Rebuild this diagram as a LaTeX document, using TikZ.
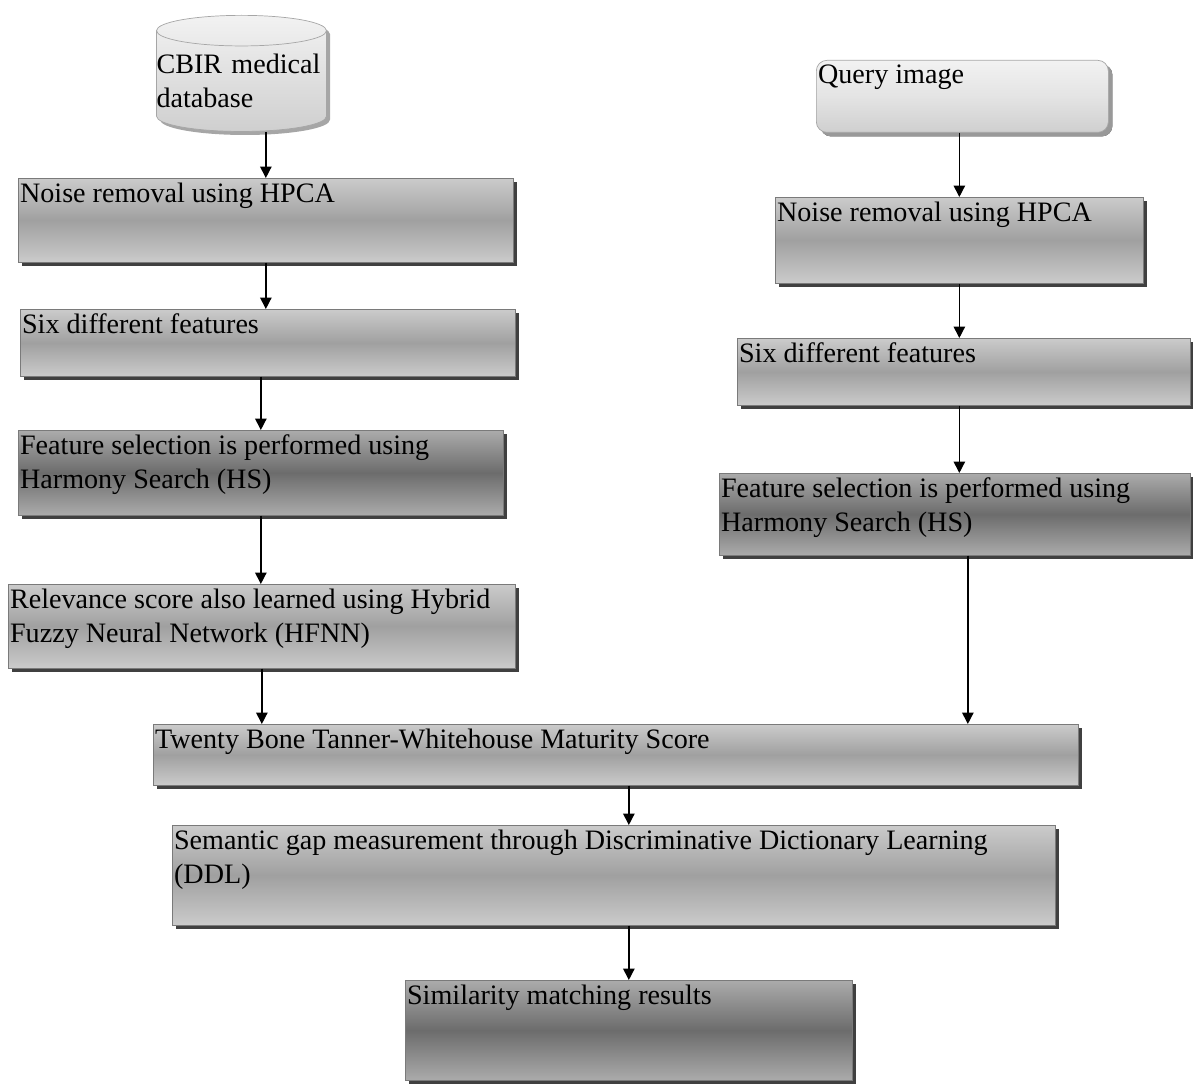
\documentclass[tikz,border=0pt]{standalone}
\usepackage{fontspec}
\setmainfont{Liberation Serif}
\usetikzlibrary{shapes.geometric, arrows.meta, shadows}
\definecolor{edge}{HTML}{7a7a7a}
\definecolor{lite}{HTML}{cbcbcb}
\definecolor{mid}{HTML}{a0a0a0}
\definecolor{dlite}{HTML}{ababab}
\definecolor{deep}{HTML}{6c6c6c}
\definecolor{pale}{HTML}{f2f2f2}
\definecolor{palemid}{HTML}{e4e4e4}
\definecolor{palelow}{HTML}{cfcfcf}

\begin{document}
\begin{tikzpicture}[>={Triangle[width=6.5pt,length=6.5pt]}]
  \useasboundingbox (0,0) rectangle (23.86,-21.68);
  \tikzstyle{box}=[rectangle, anchor=north west, draw=edge,
                   top color=lite, bottom color=lite, middle color=mid,
                   drop shadow={shadow xshift=2.3pt, shadow yshift=-2.3pt,
                   fill=black!75, opacity=1}]
  \tikzstyle{darkbox}=[box, top color=dlite, bottom color=dlite, middle color=deep]
  \tikzstyle{qbox}=[box, rounded corners=6pt, draw=black!35,
                   top color=pale, bottom color=palelow, middle color=palemid,
                   drop shadow={shadow xshift=2.3pt, shadow yshift=-2.3pt,
                   fill=black!40, opacity=1}]
  \tikzstyle{db}=[cylinder, shape border rotate=90, aspect=0.18, anchor=north,
                  draw=black!35, top color=pale, bottom color=palelow,
                  text width=3.4cm, align=left, inner xsep=0pt, inner ysep=4.5pt,
                  font=\fontsize{16}{19.5}\selectfont,
                  drop shadow={shadow xshift=2pt, shadow yshift=-2pt,
                  fill=black!35, opacity=1}]
  \tikzstyle{txt}=[anchor=north west, align=left, inner xsep=1pt, inner ysep=2.5pt,
                   font=\fontsize{16}{19.5}\selectfont]
  \tikzstyle{arr}=[->, thick]

  \node[db](db) at (4.83,-0.30) {CBIR medical\\database};
  \node[box, minimum width=9.9cm, minimum height=1.68cm,
        label={[txt]north west:Noise removal using  HPCA}](n1) at (0.36,-3.56) {};
  \node[box, minimum width=9.9cm, minimum height=1.34cm,
        label={[txt]north west:Six different features}](n2) at (0.40,-6.18) {};
  \node[darkbox, minimum width=9.7cm, minimum height=1.70cm,
        label={[txt]north west:Feature selection is performed using\\Harmony Search (HS)}](n3) at (0.36,-8.60) {};
  \node[box, minimum width=10.14cm, minimum height=1.68cm,
        label={[txt]north west:Relevance score also learned using Hybrid\\Fuzzy Neural Network (HFNN)}](n4) at (0.16,-11.68) {};

  \node[qbox, minimum width=5.84cm, minimum height=1.44cm,
        label={[txt]north west:Query image}](q) at (16.32,-1.20) {};
  \node[box, minimum width=7.36cm, minimum height=1.72cm,
        label={[txt]north west:Noise removal using  HPCA}](m1) at (15.50,-3.94) {};
  \node[box, minimum width=9.06cm, minimum height=1.34cm,
        label={[txt]north west:Six different features}](m2) at (14.74,-6.76) {};
  \node[darkbox, minimum width=9.42cm, minimum height=1.64cm,
        label={[txt]north west:Feature selection is performed using\\Harmony Search (HS)}](m3) at (14.38,-9.46) {};

  \node[box, minimum width=18.5cm, minimum height=1.22cm,
        label={[txt]north west:Twenty Bone Tanner-Whitehouse Maturity Score}](tw) at (3.06,-14.48) {};
  \node[box, minimum width=17.66cm, minimum height=2.0cm,
        label={[txt]north west:Semantic gap measurement through Discriminative Dictionary  Learning\\(DDL)}](sg) at (3.44,-16.50) {};
  \node[darkbox, minimum width=8.94cm, minimum height=2.0cm,
        label={[txt]north west:Similarity matching results}](sm) at (8.10,-19.60) {};

  \draw[arr](n1.north |- db.south)--(n1.north);
  \draw[arr](n1.south)--(n1.south |- n2.north);
  \draw[arr](n3.north |- n2.south)--(n3.north);
  \draw[arr](n3.south)--(n3.south |- n4.north);
  \draw[arr](n4.south)--(n4.south |- tw.north);
  \draw[arr](m1.north |- q.south)--(m1.north);
  \draw[arr](m1.south)--(m1.south |- m2.north);
  \draw[arr](m1.south |- m2.south)--(m1.south |- m3.north);
  \draw[arr]([xshift=0.26cm]m3.south)--([xshift=0.26cm]m3.south |- tw.north);
  \draw[arr](sm.north |- tw.south)--(sm.north |- sg.north);
  \draw[arr](sm.north |- sg.south)--(sm.north);
\end{tikzpicture}
\end{document}
